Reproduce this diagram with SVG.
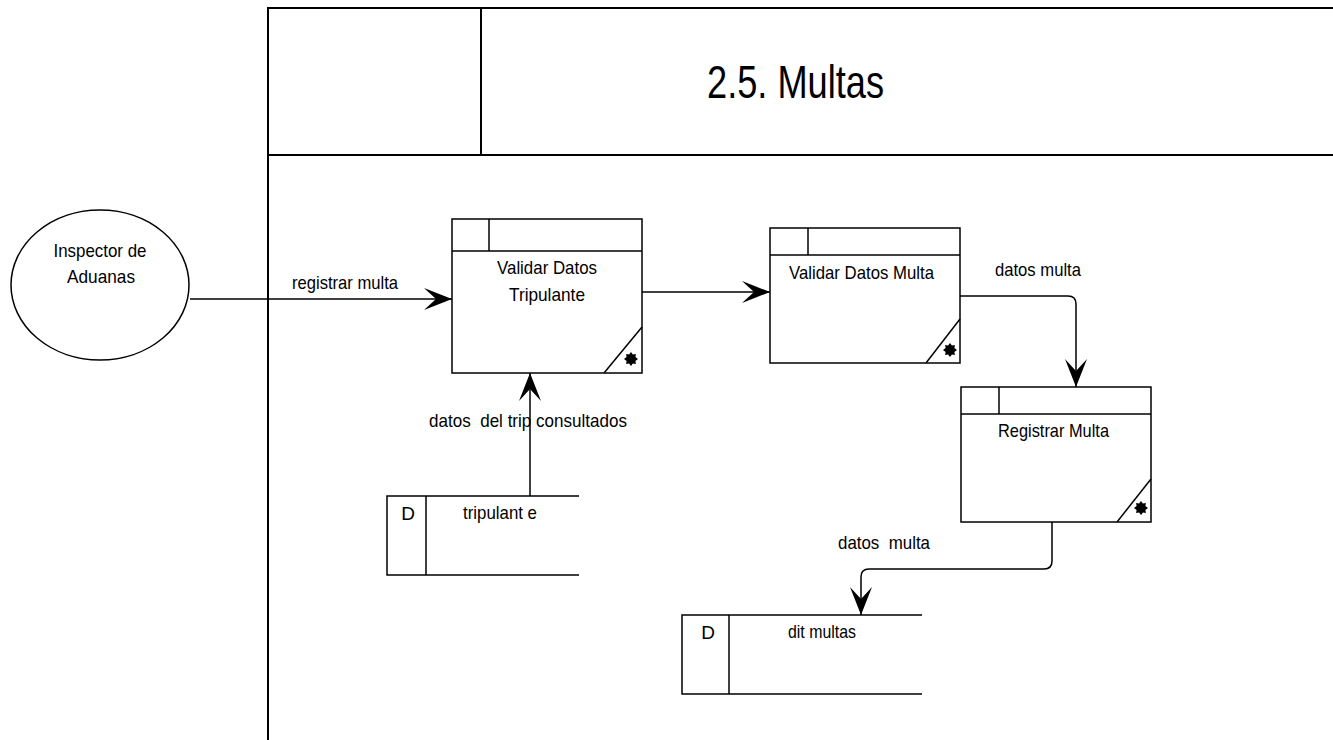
<svg xmlns="http://www.w3.org/2000/svg" width="1333" height="740" viewBox="0 0 1333 740">
<defs>
<style>
.t{font-family:"Liberation Sans",Arial,sans-serif;font-size:19px;fill:#000;white-space:pre}
.fr{stroke:#000;stroke-width:2;fill:none}
.bx{stroke:#000;stroke-width:1.5;fill:#fff}
.ln{stroke:#000;stroke-width:1.5;fill:none}
.cn{stroke:#000;stroke-width:1.5;fill:none;marker-end:url(#ah)}
</style>
<marker id="ah" viewBox="0 0 28 24" refX="28" refY="12" markerWidth="28" markerHeight="24" markerUnits="userSpaceOnUse" orient="auto">
<path d="M28,12 L0,1 L12,12 L0,23 Z" fill="#000"/>
</marker>
<polygon id="star" points="0,-7 1.9,-4.4 4.9,-4.9 4.4,-1.9 7,0 4.4,1.9 4.9,4.9 1.9,4.4 0,7 -1.9,4.4 -4.9,4.9 -4.4,1.9 -7,0 -4.4,-1.9 -4.9,-4.9 -1.9,-4.4" fill="#000"/>
</defs>
<rect width="1333" height="740" fill="#fff"/>
<g id="frame">
<line class="fr" x1="268" y1="8" x2="1333" y2="8"/>
<line class="fr" x1="268" y1="155" x2="1333" y2="155"/>
<line class="fr" x1="268" y1="7" x2="268" y2="740"/>
<line class="fr" x1="481" y1="8" x2="481" y2="155"/>
<text class="t" x="707" y="98" style="font-size:46px" textLength="177" lengthAdjust="spacingAndGlyphs">2.5. Multas</text>
</g>
<g id="connectors">
<line class="cn" x1="190" y1="299" x2="452" y2="299"/>
<text class="t" x="292" y="289" textLength="106" lengthAdjust="spacingAndGlyphs">registrar multa</text>
<line class="cn" x1="642" y1="292" x2="770" y2="292"/>
<path class="cn" d="M960,296 H1068 Q1076,296 1076,304 V387"/>
<text class="t" x="995" y="276" textLength="86" lengthAdjust="spacingAndGlyphs">datos multa</text>
<line class="cn" x1="530" y1="496" x2="530" y2="373"/>
<text class="t" x="429" y="427" textLength="198" lengthAdjust="spacingAndGlyphs">datos  del trip consultados</text>
<path class="cn" d="M1052,522 V561 Q1052,569 1044,569 H869 Q861,569 861,577 V615"/>
<text class="t" x="838" y="549" textLength="92" lengthAdjust="spacingAndGlyphs">datos  multa</text>
</g>
<g id="inspector">
<ellipse class="bx" cx="100" cy="285" rx="89" ry="75"/>
<text class="t" x="100" y="257" text-anchor="middle" textLength="93" lengthAdjust="spacingAndGlyphs">Inspector de</text>
<text class="t" x="101" y="283" text-anchor="middle" textLength="68" lengthAdjust="spacingAndGlyphs">Aduanas</text>
</g>
<g id="validar-tripulante">
<rect class="bx" x="452" y="219" width="190" height="154"/>
<line class="ln" x1="452" y1="251" x2="642" y2="251"/>
<line class="ln" x1="489" y1="219" x2="489" y2="251"/>
<line class="ln" x1="642" y1="327" x2="604" y2="373"/>
<use href="#star" x="631" y="359"/>
<text class="t" x="547" y="274" text-anchor="middle" textLength="100" lengthAdjust="spacingAndGlyphs">Validar Datos</text>
<text class="t" x="547" y="301" text-anchor="middle" textLength="76" lengthAdjust="spacingAndGlyphs">Tripulante</text>
</g>
<g id="validar-multa">
<rect class="bx" x="770" y="228" width="190" height="135"/>
<line class="ln" x1="770" y1="255" x2="960" y2="255"/>
<line class="ln" x1="808" y1="228" x2="808" y2="255"/>
<line class="ln" x1="960" y1="319" x2="926" y2="363"/>
<use href="#star" x="950" y="350"/>
<text class="t" x="789" y="279" textLength="145" lengthAdjust="spacingAndGlyphs">Validar Datos Multa</text>
</g>
<g id="registrar-multa">
<rect class="bx" x="961" y="387" width="190" height="135"/>
<line class="ln" x1="961" y1="414" x2="1151" y2="414"/>
<line class="ln" x1="999" y1="387" x2="999" y2="414"/>
<line class="ln" x1="1151" y1="479" x2="1117" y2="522"/>
<use href="#star" x="1141" y="508"/>
<text class="t" x="998" y="437" textLength="111" lengthAdjust="spacingAndGlyphs">Registrar Multa</text>
</g>
<g id="store-tripulante">
<path class="ln" d="M579,496 H387 V575 H579"/>
<line class="ln" x1="426" y1="496" x2="426" y2="575"/>
<text class="t" x="408" y="520" text-anchor="middle">D</text>
<text class="t" x="463" y="519" textLength="74" lengthAdjust="spacingAndGlyphs">tripulant e</text>
</g>
<g id="store-multas">
<path class="ln" d="M922,615 H682 V694 H922"/>
<line class="ln" x1="729" y1="615" x2="729" y2="694"/>
<text class="t" x="708" y="639" text-anchor="middle">D</text>
<text class="t" x="788" y="638" textLength="68" lengthAdjust="spacingAndGlyphs">dit multas</text>
</g>
</svg>
